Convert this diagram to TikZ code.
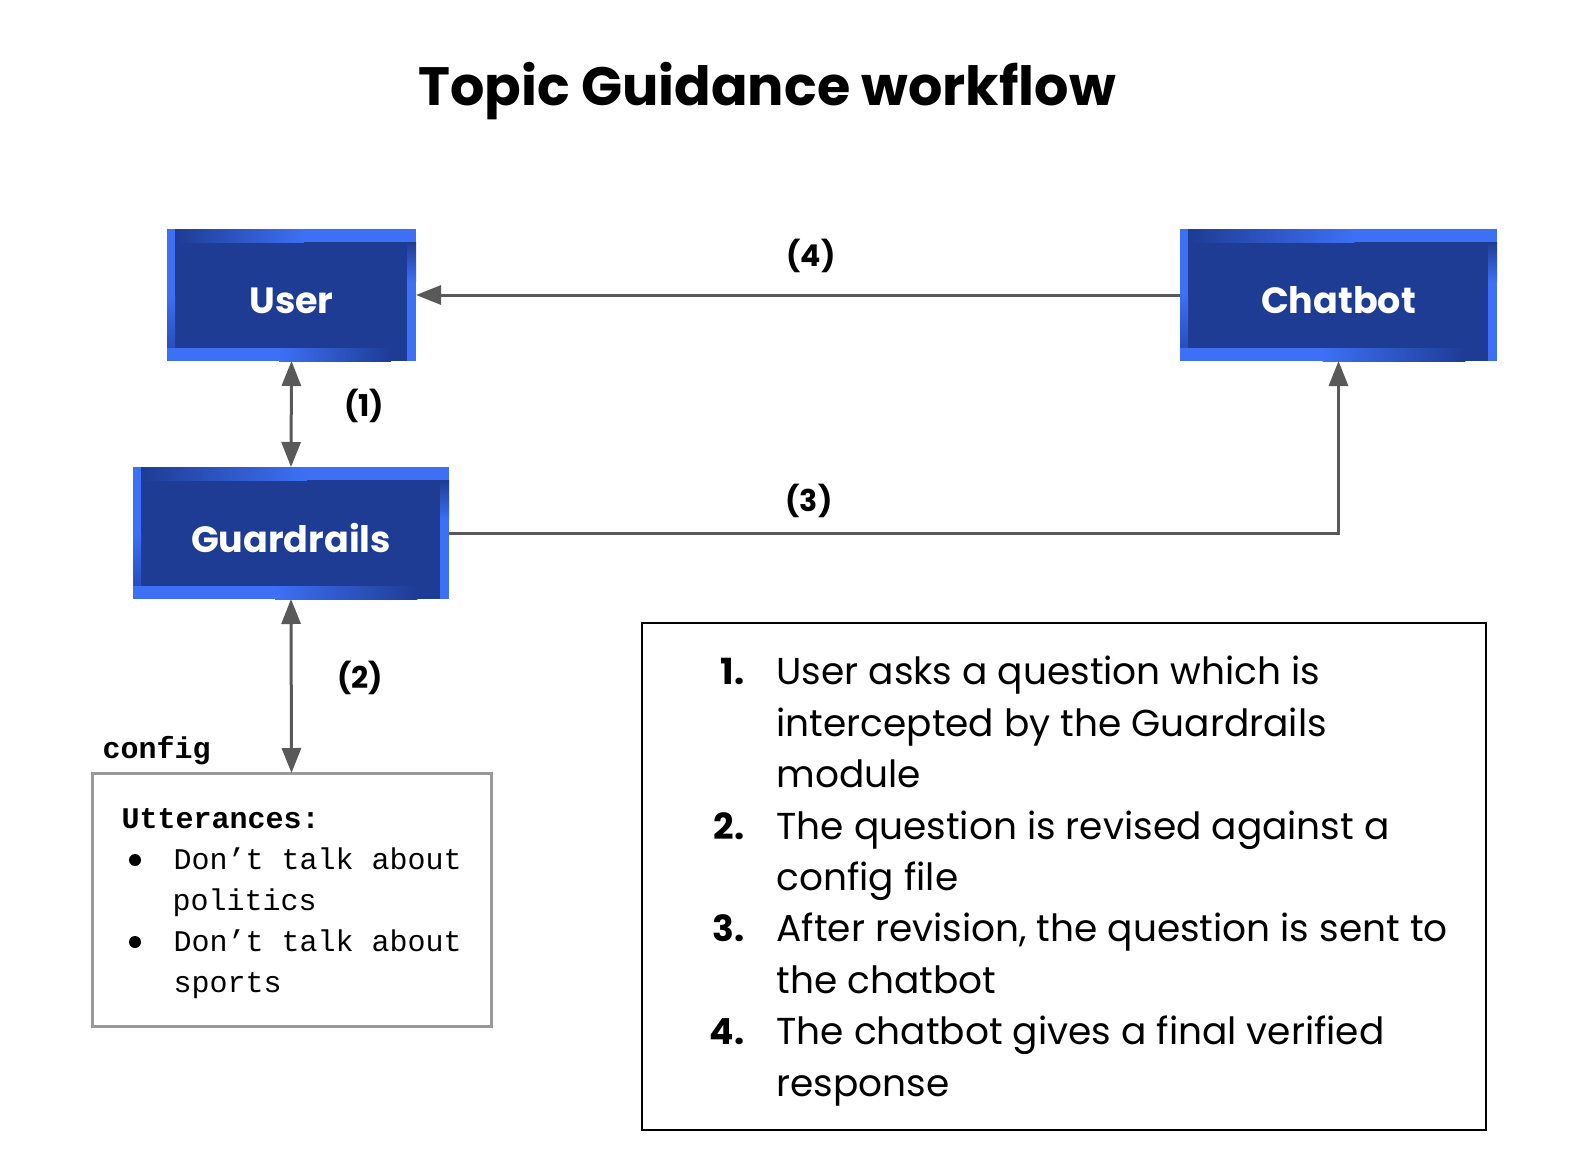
\documentclass[tikz,border=0pt]{standalone}
\usepackage{fontspec}
\setmainfont{Poppins}
\newfontfamily\cmono{Liberation Mono}
\usetikzlibrary{calc,arrows.meta}
\definecolor{bdark}{RGB}{30,60,148}
\definecolor{bbright}{RGB}{61,112,245}
\definecolor{bmid}{RGB}{38,78,190}
\definecolor{lgray}{RGB}{89,89,89}
\definecolor{cgray}{RGB}{153,153,153}
\newcommand\bbstrips[1]{%
  % top strip
  \shade[left color=bdark,right color=bbright] ($(#1.north west)+(8,0)$) rectangle ($(#1.north west)!0.55!(#1.north east)+(0,13)$);
  \fill[bbright] ($(#1.north west)!0.55!(#1.north east)$) rectangle ($(#1.north east)+(0,13)$);
  % left strip
  \fill[bbright] (#1.north west) rectangle ($(#1.north west)!0.5!(#1.south west)+(8,0)$);
  \shade[top color=bbright,bottom color=bmid] ($(#1.north west)!0.5!(#1.south west)$) rectangle ($(#1.south west)+(8,-13)$);
  % right strip
  \shade[top color=bdark,bottom color=bbright] ($(#1.north east)+(-9,13)$) rectangle ($(#1.north east)!0.4!(#1.south east)$);
  \fill[bbright] ($(#1.north east)!0.4!(#1.south east)+(-9,0)$) rectangle (#1.south east);
  % bottom strip
  \fill[bbright] ($(#1.south west)+(0,-13)$) rectangle ($(#1.south west)!0.45!(#1.south east)$);
  \shade[left color=bbright,right color=bdark] ($(#1.south west)!0.45!(#1.south east)+(0,-13)$) rectangle ($(#1.south west)!0.9!(#1.south east)$);
  \fill[bdark] ($(#1.south west)!0.9!(#1.south east)+(0,-13)$) rectangle ($(#1.south east)+(-9,0)$);
}
\tikzset{
  bluebox/.style={fill=bdark, draw=none, inner sep=0pt, outer sep=0pt, minimum height=132pt},
  boxtxt/.style={text=white, font=\bfseries\fontsize{36.5}{40}\selectfont},
  conn/.style={draw=lgray, line width=3pt, arrows={-Triangle[width=19pt,length=25pt]}},
  dconn/.style={draw=lgray, line width=3pt, arrows={Triangle[width=19pt,length=25pt]-Triangle[width=19pt,length=25pt]}},
  steplabel/.style={font=\bfseries\fontsize{30}{34}\selectfont},
  listnum/.style={anchor=base east, font=\bfseries\fontsize{36}{40}\selectfont},
  listtxt/.style={anchor=base west, font=\fontsize{37.5}{40}\selectfont},
  monotxt/.style={anchor=base west, font=\cmono\fontsize{30}{32}\selectfont},
}
\begin{document}
\begin{tikzpicture}[x=1pt,y=-1pt]
\useasboundingbox[fill=white] (0,0) rectangle (1590,1170);
% title
\node[font=\bfseries\fontsize{54}{60}\selectfont] (title) at (767,91) {Topic Guidance workflow};
% blue boxes
\node[bluebox, minimum width=249pt] (user) at (291.5,295) {};
\node[bluebox, minimum width=317pt] (chat) at (1338.5,295) {};
\node[bluebox, minimum width=316pt] (guard) at (291,533) {};
\bbstrips{user}
\bbstrips{chat}
\bbstrips{guard}
\node[boxtxt] (usert) at ($(user.center)+(0,6)$) {User};
\node[boxtxt] (chatt) at ($(chat.center)+(0,5)$) {Chatbot};
\node[boxtxt] (guardt) at ($(guard.center)+(0,5)$) {Guardrails};
% config box
\node[draw=cgray, line width=3pt, minimum width=399pt, minimum height=253pt, inner sep=0pt, outer sep=0pt] (cfg) at (291.5,899.5) {};
\node[anchor=base west, font=\cmono\bfseries\fontsize{30}{32}\selectfont] (cfglbl) at (99,758) {config};
\node[monotxt, font=\cmono\bfseries\fontsize{30}{32}\selectfont] (utt) at (118,828) {Utterances:};
\fill (135,860) circle (6pt);
\fill (135,942) circle (6pt);
\node[monotxt] (u1) at (170,869) {Don’t talk about};
\node[monotxt] (u2) at (169,910) {politics};
\node[monotxt] (u3) at (170,951) {Don’t talk about};
\node[monotxt] (u4) at (170,992) {sports};
% list box
\node[draw=black, line width=2.5pt, minimum width=844pt, minimum height=507pt, inner sep=0pt, outer sep=0pt] (lst) at (1064,876.5) {};
\node[listnum] (n1) at (748,684) {1.};
\node[listtxt] (t1a) at (773,684) {User asks a question which is};
\node[listtxt] (t1b) at (773,736) {intercepted by the Guardrails};
\node[listtxt] (t1c) at (773,787) {module};
\node[listnum] (n2) at (748,839) {2.};
\node[listtxt] (t2a) at (773,839) {The question is revised against a};
\node[listtxt] (t2b) at (773,890) {config file};
\node[listnum] (n3) at (748,941) {3.};
\node[listtxt] (t3a) at (773,941) {After revision, the question is sent to};
\node[listtxt] (t3b) at (773,993) {the chatbot};
\node[listnum] (n4) at (748,1044) {4.};
\node[listtxt] (t4a) at (773,1044) {The chatbot gives a final verified};
\node[listtxt] (t4b) at (773,1096) {response};
% connectors
\draw[dconn] (user.south) -- (guard.north);
\draw[dconn] (guard.south) -- (cfg.north);
\draw[conn] (guard.east) -| (chat.south);
\draw[conn] (chat.west) -- (user.east);
% connector labels
\node[steplabel] (l1) at (364,406) {(1)};
\node[steplabel] (l2) at (360,678) {(2)};
\node[steplabel] (l3) at (809,501) {(3)};
\node[steplabel] (l4) at (811,256) {(4)};
\end{tikzpicture}
\end{document}
